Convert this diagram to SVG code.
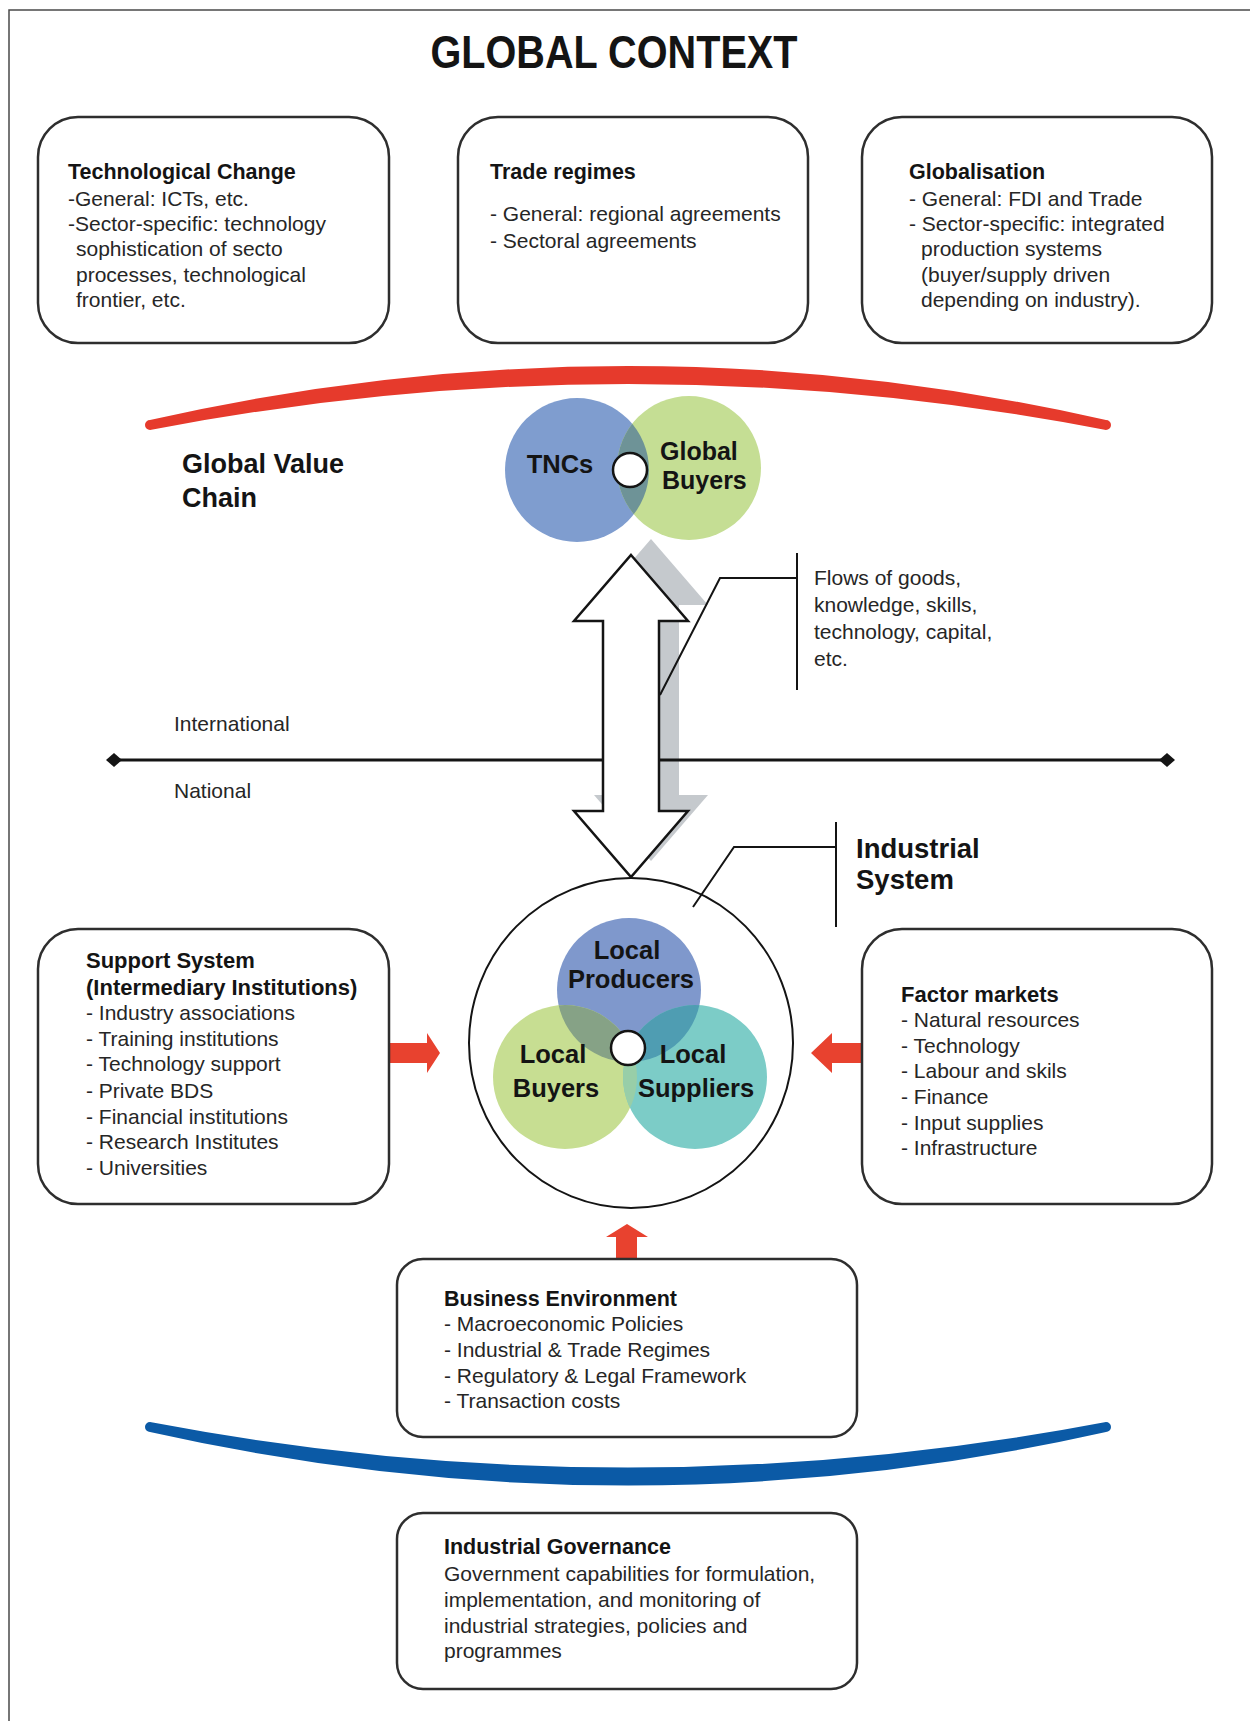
<svg xmlns="http://www.w3.org/2000/svg" width="1250" height="1721" viewBox="0 0 1250 1721">
<style>
.box{fill:#fff;stroke:#2e2e2e;stroke-width:2.5}
.h{font-family:"Liberation Sans",Arial,sans-serif;font-weight:bold;fill:#141414}
.b{font-family:"Liberation Sans",Arial,sans-serif;fill:#262626;font-size:21px}
.h21{font-size:21.5px}
.big{font-size:27px}
.cl{font-family:"Liberation Sans",Arial,sans-serif;font-weight:bold;fill:#141414;font-size:25.5px;text-anchor:middle}
.ln{fill:none;stroke:#141414;stroke-width:2}
.red{fill:#e8422f}
.hole{fill:#fff;stroke:#141414;stroke-width:2.5}
</style>
<defs>
<marker id="dia" viewBox="-9 -8 18 16" markerWidth="18" markerHeight="16" refX="0" refY="0" markerUnits="userSpaceOnUse" orient="auto">
<polygon points="-8,0 0,-7 8,0 0,7" fill="#141414"/>
</marker>
<clipPath id="cTNC"><circle cx="577" cy="470" r="72"/></clipPath>
<clipPath id="cP"><circle cx="629" cy="990" r="72"/></clipPath>
<clipPath id="cB"><circle cx="565" cy="1077" r="72"/></clipPath>
<polygon id="dblarrow" points="631,555 688,621 659,621 659,811 688,811 631,877 574,811 603,811 603,621 574,621"/>
</defs>

<path d="M9,1721 V10 H1250" fill="none" stroke="#4a4a4a" stroke-width="1.5"/>

<text class="h" x="614" y="68" font-size="46" text-anchor="middle" textLength="367" lengthAdjust="spacingAndGlyphs">GLOBAL CONTEXT</text>

<g id="technological-change">
<rect class="box" x="38" y="117" width="351" height="226" rx="40"/>
<text class="h h21" x="68" y="179">Technological Change</text>
<text class="b" x="68" y="206">-General: ICTs, etc.</text>
<text class="b" x="68" y="231">-Sector-specific: technology</text>
<text class="b" x="76" y="256">sophistication of secto</text>
<text class="b" x="76" y="282">processes, technological</text>
<text class="b" x="76" y="307">frontier, etc.</text>
</g>

<g id="trade-regimes">
<rect class="box" x="458" y="117" width="350" height="226" rx="40"/>
<text class="h h21" x="490" y="179">Trade regimes</text>
<text class="b" x="490" y="221">- General: regional agreements</text>
<text class="b" x="490" y="248">- Sectoral agreements</text>
</g>

<g id="globalisation">
<rect class="box" x="862" y="117" width="350" height="226" rx="40"/>
<text class="h h21" x="909" y="179">Globalisation</text>
<text class="b" x="909" y="206">- General: FDI and Trade</text>
<text class="b" x="909" y="231">- Sector-specific: integrated</text>
<text class="b" x="921" y="256">production systems</text>
<text class="b" x="921" y="282">(buyer/supply driven</text>
<text class="b" x="921" y="307">depending on industry).</text>
</g>

<path id="red-arc" d="M150,420 Q628,312 1106,420 A5,5 0 0 1 1106,430 Q628,338 150,430 A5,5 0 0 1 150,420 Z" fill="#e63a2c"/>

<g id="gvc-label">
<text class="h big" x="182" y="473">Global Value</text>
<text class="h big" x="182" y="507">Chain</text>
</g>

<g id="connectors">
<use href="#dblarrow" transform="translate(20,-16)" fill="#c5c9cd"/>
<line x1="114" y1="760" x2="1167" y2="760" stroke="#141414" stroke-width="3" marker-start="url(#dia)" marker-end="url(#dia)"/>
<use href="#dblarrow" fill="#fff" stroke="#141414" stroke-width="2.5" stroke-linejoin="miter"/>
<path class="ln" d="M797,553 V690 M797,578 H720 L660,695"/>
<path class="ln" d="M836,822 V927 M836,847 H734 L693,907"/>
<polygon class="red" points="389,1043 427,1043 427,1033 440,1053 427,1073 427,1063 389,1063"/>
<polygon class="red" points="862,1043 832,1043 832,1033 811,1053 832,1073 832,1063 862,1063"/>
<polygon class="red" points="616,1259 616,1237 606,1237 627,1224 648,1237 637,1237 637,1259"/>
</g>

<g id="gvc-circles">
<circle cx="577" cy="470" r="72" fill="#7f9dcf"/>
<circle cx="689" cy="468" r="72" fill="#c5de94"/>
<circle cx="689" cy="468" r="72" fill="#6e9397" clip-path="url(#cTNC)"/>
<circle class="hole" cx="630" cy="470" r="17"/>
<text class="cl" x="560" y="473" font-size="27">TNCs</text>
<text class="h" x="660" y="460" font-size="25">Global</text>
<text class="h" x="662" y="489" font-size="25">Buyers</text>
</g>

<g id="flows-label">
<text class="b" x="814" y="585">Flows of goods,</text>
<text class="b" x="814" y="612">knowledge, skills,</text>
<text class="b" x="814" y="639">technology, capital,</text>
<text class="b" x="814" y="666">etc.</text>
</g>

<g id="scale-labels">
<text class="b" x="174" y="731" fill="#2f3540">International</text>
<text class="b" x="174" y="798" fill="#2f3540">National</text>
</g>

<g id="industrial-system-label">
<text class="h" x="856" y="858" font-size="27.5">Industrial</text>
<text class="h" x="856" y="889" font-size="27.5">System</text>
</g>

<g id="industrial-system">
<ellipse cx="631" cy="1043" rx="162" ry="165" fill="none" stroke="#141414" stroke-width="2"/>
<circle cx="629" cy="990" r="72" fill="#7f98cc"/>
<circle cx="565" cy="1077" r="72" fill="#c7de92"/>
<circle cx="695" cy="1077" r="72" fill="#7cccc7"/>
<circle cx="565" cy="1077" r="72" fill="#86a286" clip-path="url(#cP)"/>
<circle cx="695" cy="1077" r="72" fill="#4f9db2" clip-path="url(#cP)"/>
<circle cx="695" cy="1077" r="72" fill="#98cea8" clip-path="url(#cB)"/>
<circle class="hole" cx="628" cy="1048" r="17"/>
<text class="cl" x="627" y="959">Local</text>
<text class="cl" x="631" y="988">Producers</text>
<text class="cl" x="553" y="1063">Local</text>
<text class="cl" x="556" y="1097">Buyers</text>
<text class="cl" x="693" y="1063">Local</text>
<text class="cl" x="696" y="1097">Suppliers</text>
</g>

<g id="support-system">
<rect class="box" x="38" y="929" width="351" height="275" rx="40"/>
<text class="h" x="86" y="968" font-size="22">Support System</text>
<text class="h" x="86" y="995" font-size="22">(Intermediary Institutions)</text>
<text class="b" x="86" y="1020">- Industry associations</text>
<text class="b" x="86" y="1046">- Training institutions</text>
<text class="b" x="86" y="1071">- Technology support</text>
<text class="b" x="86" y="1098">- Private BDS</text>
<text class="b" x="86" y="1124">- Financial institutions</text>
<text class="b" x="86" y="1149">- Research Institutes</text>
<text class="b" x="86" y="1175">- Universities</text>
</g>

<g id="factor-markets">
<rect class="box" x="862" y="929" width="350" height="275" rx="40"/>
<text class="h" x="901" y="1002" font-size="22">Factor markets</text>
<text class="b" x="901" y="1027">- Natural resources</text>
<text class="b" x="901" y="1053">- Technology</text>
<text class="b" x="901" y="1078">- Labour and skils</text>
<text class="b" x="901" y="1104">- Finance</text>
<text class="b" x="901" y="1130">- Input supplies</text>
<text class="b" x="901" y="1155">- Infrastructure</text>
</g>

<g id="business-environment">
<rect class="box" x="397" y="1259" width="460" height="178" rx="26"/>
<text class="h" x="444" y="1306" font-size="21.5">Business Environment</text>
<text class="b" x="444" y="1331">- Macroeconomic Policies</text>
<text class="b" x="444" y="1357">- Industrial &amp; Trade Regimes</text>
<text class="b" x="444" y="1383">- Regulatory &amp; Legal Framework</text>
<text class="b" x="444" y="1408">- Transaction costs</text>
</g>

<path id="blue-arc" d="M150,1422 Q628,1513 1106,1422 A5,5 0 0 1 1106,1432 Q628,1539 150,1432 A5,5 0 0 1 150,1422 Z" fill="#0b5aa6"/>

<g id="industrial-governance">
<rect class="box" x="397" y="1513" width="460" height="176" rx="26"/>
<text class="h" x="444" y="1554" font-size="21.5">Industrial Governance</text>
<text class="b" x="444" y="1581">Government capabilities for formulation,</text>
<text class="b" x="444" y="1607">implementation, and monitoring of</text>
<text class="b" x="444" y="1633">industrial strategies, policies and</text>
<text class="b" x="444" y="1658">programmes</text>
</g>
</svg>
